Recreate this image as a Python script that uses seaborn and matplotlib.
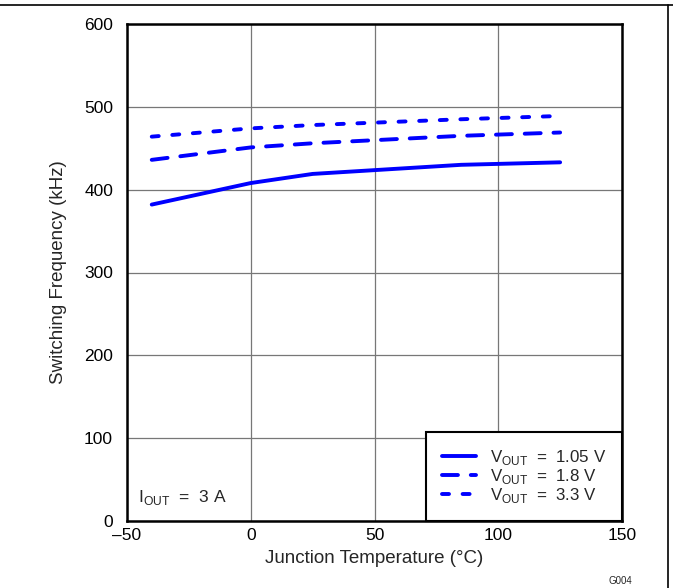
import matplotlib
matplotlib.use("Agg")
import matplotlib.pyplot as plt
import seaborn as sns
import pandas as pd
from matplotlib.lines import Line2D

temps = [-40, 0, 25, 85, 125]
f_105 = [382, 408, 419, 430, 433]
f_18 = [436, 451, 456, 465, 469]
f_33 = [464, 474, 478, 485, 489]
series_names = ["1.05 V", "1.8 V", "3.3 V"]
x_ticks = [-50, 0, 50, 100, 150]
y_ticks = [0, 100, 200, 300, 400, 500, 600]

df = pd.DataFrame({
    "T": temps * 3,
    "F": f_105 + f_18 + f_33,
    "V": [series_names[0]] * 5 + [series_names[1]] * 5 + [series_names[2]] * 5,
})

sns.set_style("white")
plt.rcParams["font.family"] = ["Liberation Sans", "DejaVu Sans"]
plt.rcParams["mathtext.fontset"] = "custom"
plt.rcParams["mathtext.rm"] = "Liberation Sans"
plt.rcParams["lines.dash_capstyle"] = "round"
plt.rcParams["lines.solid_capstyle"] = "round"

LW = 2.8
DASH_LONG = (4.1, 3.3)
DASH_SHORT = (1.8, 3.5)

fig = plt.figure(figsize=(6.73, 5.88), dpi=100)
ax = fig.add_axes([127 / 673, 1 - 521 / 588, 495 / 673, 497 / 588])

dash_map = {series_names[0]: "", series_names[1]: DASH_LONG, series_names[2]: DASH_SHORT}
pal = {n: "#0000ff" for n in series_names}
sns.lineplot(data=df, x="T", y="F", hue="V", style="V", dashes=dash_map,
             palette=pal, linewidth=LW, ax=ax, legend=False)

ax.set_xlim(-50, 150)
ax.set_ylim(0, 600)
ax.set_xticks(x_ticks)
ax.set_yticks(y_ticks)
ax.set_xticklabels([str(t).replace("-", "\u2013") for t in x_ticks])
ax.tick_params(axis="both", length=0, labelsize=12.5, colors="black")
ax.tick_params(axis="y", pad=10)
ax.tick_params(axis="x", pad=5)
ax.grid(True, color="#777777", linewidth=0.9)
for s in ax.spines.values():
    s.set_color("black")
    s.set_linewidth(1.8)
ax.set_xlabel("Junction Temperature (\u00b0C)", fontsize=13.5, labelpad=5)
ax.set_ylabel("Switching Frequency (kHz)", fontsize=13.5, labelpad=12)

handles = [Line2D([0], [0], color="#0000ff", lw=LW, linestyle="-"),
           Line2D([0], [0], color="#0000ff", lw=LW, linestyle=(0, DASH_LONG)),
           Line2D([0], [0], color="#0000ff", lw=LW, linestyle=(0, DASH_SHORT))]
labels = [r"V$_{\mathregular{OUT}}$  =  " + n for n in series_names]
leg = ax.legend(handles, labels, loc="lower right", fontsize=12.2, frameon=True,
                fancybox=False, edgecolor="black", framealpha=1,
                borderaxespad=0.0, handlelength=2.0, labelspacing=0.0,
                borderpad=0.95, handletextpad=0.8)
leg.get_frame().set_linewidth(1.5)

ax.text(0.022, 0.048, r"I$_{\mathregular{OUT}}$  =  3 A", transform=ax.transAxes,
        fontsize=12.5, ha="left", va="center")

fig.add_artist(Line2D([0, 1], [1 - 5 / 588, 1 - 5 / 588], color="black", lw=1.2,
                      transform=fig.transFigure))
fig.add_artist(Line2D([668 / 673, 668 / 673], [0, 1 - 5 / 588], color="black", lw=1.2,
                      transform=fig.transFigure))
fig.text(620 / 673, 1 - 584 / 588, "G004", fontsize=7, ha="center", va="baseline")

fig.savefig("out.png", dpi=100)
